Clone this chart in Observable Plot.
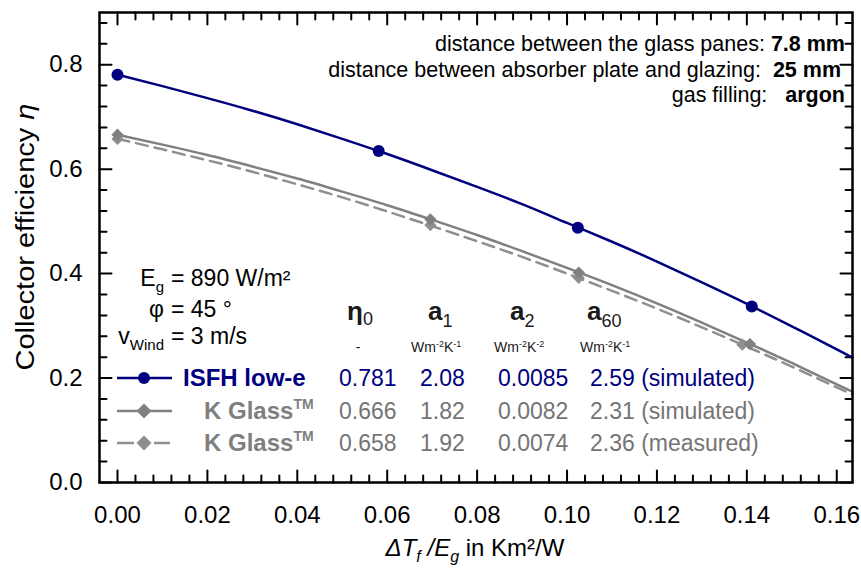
<!DOCTYPE html>
<html><head><meta charset="utf-8">
<script src="https://cdn.jsdelivr.net/npm/d3@7"></script>
<script src="https://cdn.jsdelivr.net/npm/@observablehq/plot@0.6"></script>
<style>
html,body{margin:0;padding:0;background:#fff;}
svg{display:block;}
</style></head><body><div id="chart"></div>
<script>
// ---- data ----
const xGrid    = [0, 0.01, 0.02, 0.03, 0.04, 0.05, 0.06, 0.07, 0.08, 0.09, 0.10, 0.11, 0.12, 0.13, 0.14, 0.15, 0.16, 0.1635];
const etaISFH  = [0.781, 0.759, 0.736, 0.712, 0.686, 0.658, 0.629, 0.598, 0.566, 0.533, 0.497, 0.461, 0.423, 0.383, 0.342, 0.299, 0.255, 0.239];
const etaKsim  = [0.666, 0.647, 0.627, 0.605, 0.582, 0.557, 0.531, 0.503, 0.474, 0.443, 0.411, 0.378, 0.343, 0.306, 0.268, 0.229, 0.188, 0.174];
const etaKmeas = [0.658, 0.638, 0.617, 0.595, 0.571, 0.546, 0.519, 0.491, 0.462, 0.432, 0.400, 0.367, 0.333, 0.297, 0.260, 0.222, 0.182, 0.169];

const ptX_ISFH  = [0, 0.0581, 0.1024, 0.1411];
const ptY_ISFH  = [0.781, 0.635, 0.488, 0.337];
const ptX_Ksim  = [0, 0.0696, 0.1026, 0.1407];
const ptY_Ksim  = [0.666, 0.504, 0.402, 0.265];
const ptX_Kmeas = [0, 0.0696, 0.1026, 0.1390];
const ptY_Kmeas = [0.658, 0.493, 0.392, 0.264];

const seriesNames = ["ISFH low-e", "K Glass", "K Glass"];
const eta0   = ["0.781", "0.666", "0.658"];
const a1     = ["2.08", "1.82", "1.92"];
const a2     = ["0.0085", "0.0082", "0.0074"];
const a60    = ["2.59", "2.31", "2.36"];
const method = ["simulated", "simulated", "measured"];

const xTicks = [0, 0.02, 0.04, 0.06, 0.08, 0.10, 0.12, 0.14, 0.16];
const yTicks = [0, 0.2, 0.4, 0.6, 0.8];

// ---- styles ----
const FONT = "'Liberation Sans', Arial, Helvetica, sans-serif";
const NAVY = "#00007f";
const GREY = "#808080";
const GREY_D = "#8f8f8f";
const TXT_GREY = "#747474";

const xMinor = d3.range(1, 41).filter(k => k % 5 !== 0).map(k => k * 0.004);
const yMinor = d3.range(1, 23).filter(k => k % 5 !== 0).map(k => k * 0.04);

const toRows = (xs, ys) => xs.map((x, i) => ({x, y: ys[i]}));
const cISFH = toRows(xGrid, etaISFH), cKsim = toRows(xGrid, etaKsim), cKmeas = toRows(xGrid, etaKmeas);
const pISFH = toRows(ptX_ISFH, ptY_ISFH), pKsim = toRows(ptX_Ksim, ptY_Ksim), pKmeas = toRows(ptX_Kmeas, ptY_Kmeas);

const tickShape = {draw(ctx, l) { ctx.moveTo(0, 0); ctx.lineTo(0, -l); }};
const vec = (data, o) => Plot.vector(data, {anchor: "start", shape: tickShape, stroke: "#000", strokeWidth: 2, ...o});
const XMIN = -0.004, XMAX = 0.1635, YMAX = 0.9;

const plot = Plot.plot({
  width: 861, height: 574,
  marginLeft: 99, marginRight: 9, marginTop: 12, marginBottom: 92,
  style: {fontFamily: FONT, fontSize: "24px", color: "#000", background: "#fff"},
  x: {domain: [XMIN, XMAX]},
  y: {domain: [0, YMAX]},
  marks: [
    Plot.axisX(xTicks, {tickSize: 0, tickPadding: 23, tickFormat: d3.format(".2f"), label: null, fontSize: 24}),
    Plot.axisY(yTicks, {tickSize: 0, tickPadding: 17, tickFormat: d3.format(".1f"), label: null, fontSize: 24}),
    // inward ticks on all four sides
    vec(xTicks, {x: d => d, y: () => 0, length: 12, rotate: 0}),
    vec(xMinor, {x: d => d, y: () => 0, length: 7, rotate: 0}),
    vec(xTicks, {x: d => d, y: () => YMAX, length: 12, rotate: 180}),
    vec(xMinor, {x: d => d, y: () => YMAX, length: 7, rotate: 180}),
    vec(yTicks, {x: () => XMIN, y: d => d, length: 12, rotate: 90}),
    vec(yMinor, {x: () => XMIN, y: d => d, length: 7, rotate: 90}),
    vec(yTicks, {x: () => XMAX, y: d => d, length: 12, rotate: -90}),
    vec(yMinor, {x: () => XMAX, y: d => d, length: 7, rotate: -90}),
    // curves
    Plot.line(cKmeas, {x: "x", y: "y", stroke: GREY_D, strokeWidth: 2.5, strokeDasharray: "12,7", curve: "natural"}),
    Plot.line(cKsim, {x: "x", y: "y", stroke: GREY, strokeWidth: 2.5, curve: "natural"}),
    Plot.line(cISFH, {x: "x", y: "y", stroke: NAVY, strokeWidth: 2.5, curve: "natural"}),
    Plot.dot(pKmeas, {x: "x", y: "y", symbol: "diamond2", r: 5.5, fill: GREY_D, stroke: "none"}),
    Plot.dot(pKsim, {x: "x", y: "y", symbol: "diamond2", r: 5.5, fill: GREY, stroke: "none"}),
    Plot.dot(pISFH, {x: "x", y: "y", r: 6, fill: NAVY, stroke: "none"}),
    Plot.frame({stroke: "#000", strokeWidth: 2.5})
  ]
});

// ---- rich text overlay ----
const svg = d3.select(plot);
const g = svg.append("g").attr("font-family", FONT);

function richText(x, y, parts, {anchor = "start", size = 20, fill = "#000", weight = "normal", transform = null} = {}) {
  const t = g.append("text").attr("x", x).attr("y", y).attr("text-anchor", anchor)
    .attr("font-size", size).attr("fill", fill).attr("font-weight", weight);
  if (transform) t.attr("transform", transform);
  let cur = 0;
  for (const p of parts) {
    const ts = t.append("tspan").text(p.t);
    const sh = p.shift || 0;
    if (sh !== cur) { ts.attr("dy", sh - cur); cur = sh; }
    if (p.size) ts.attr("font-size", p.size);
    if (p.bold) ts.attr("font-weight", "bold");
    if (p.normal) ts.attr("font-weight", "normal");
    if (p.italic) ts.attr("font-style", "italic");
    if (p.fill) ts.attr("fill", p.fill);
  }
  return t;
}

// axis titles
richText(475, 556, [
  {t: "\u0394T", italic: true}, {t: "f", italic: true, size: 16, shift: 6},
  {t: "\u00a0/E", italic: true}, {t: "g", italic: true, size: 16, shift: 6},
  {t: "\u00a0in Km\u00b2/W"}
], {anchor: "middle", size: 24});
richText(0, 0, [{t: "Collector efficiency "}, {t: "\u03b7", italic: true}],
  {anchor: "middle", size: 25, transform: "translate(34,237) rotate(-90) scale(1.16,1)"});

// top-right annotation
richText(845, 51, [{t: "distance between the glass panes: "}, {t: "7.8 mm", bold: true}], {anchor: "end", size: 21.5});
richText(841, 77, [{t: "distance between absorber plate and glazing:\u00a0\u00a0"}, {t: "25 mm", bold: true}], {anchor: "end", size: 21.5});
richText(845, 102, [{t: "gas filling:\u00a0\u00a0\u00a0"}, {t: "argon", bold: true}], {anchor: "end", size: 21.5});

// conditions
richText(164, 286, [{t: "E"}, {t: "g", size: 15, shift: 6}], {anchor: "end", size: 23});
richText(171, 286, [{t: "= 890 W/m\u00b2"}], {size: 23});
richText(164, 317, [{t: "\u03c6"}], {anchor: "end", size: 23});
richText(171, 317, [{t: "= 45 \u00b0"}], {size: 23});
richText(164, 344, [{t: "v"}, {t: "Wind", size: 15, shift: 6}], {anchor: "end", size: 23});
richText(171, 344, [{t: "= 3 m/s"}], {size: 23});

// table header
const HDR = "#1a1a1a";
richText(347, 320, [{t: "\u03b7", bold: true}, {t: "0", size: 18, shift: 5, normal: true}], {size: 26, fill: HDR});
richText(428, 320, [{t: "a", bold: true}, {t: "1", size: 18, shift: 7, normal: true}], {size: 26, fill: HDR});
richText(510, 320, [{t: "a", bold: true}, {t: "2", size: 18, shift: 7, normal: true}], {size: 26, fill: HDR});
richText(587, 320, [{t: "a", bold: true}, {t: "60", size: 18, shift: 7, normal: true}], {size: 26, fill: HDR});
const unit = (x, e2) => richText(x, 352, [{t: "Wm"}, {t: "-2", size: 9, shift: -5}, {t: "K", shift: 0}, {t: e2, size: 9, shift: -5}], {size: 14, fill: HDR});
richText(358, 352, [{t: "-"}], {anchor: "middle", size: 14, fill: HDR});
unit(411, "-1");
unit(494, "-2");
unit(580, "-1");

// legend rows
const rowY = [378, 411, 443];
const rowFill = [NAVY, TXT_GREY, TXT_GREY];
const lineCol = [NAVY, GREY, GREY_D];
const nameX = [183, 204, 204];
rowY.forEach((cy, i) => {
  if (i === 2) {
    g.append("line").attr("x1", 117).attr("x2", 134).attr("y1", cy).attr("y2", cy).attr("stroke", lineCol[i]).attr("stroke-width", 2.5);
    g.append("line").attr("x1", 154).attr("x2", 170).attr("y1", cy).attr("y2", cy).attr("stroke", lineCol[i]).attr("stroke-width", 2.5);
  } else {
    g.append("line").attr("x1", 117).attr("x2", 172).attr("y1", cy).attr("y2", cy).attr("stroke", lineCol[i]).attr("stroke-width", 2.5);
  }
  if (i === 0) g.append("circle").attr("cx", 144).attr("cy", cy).attr("r", 6).attr("fill", NAVY);
  else g.append("path").attr("d", `M144,${cy - 7.5}L${144 + 7.5},${cy}L144,${cy + 7.5}L${144 - 7.5},${cy}Z`).attr("fill", lineCol[i]);
  const by = cy + 8;
  const nameParts = i === 0 ? [{t: seriesNames[i]}] : [{t: seriesNames[i]}, {t: "TM", size: 14, shift: -10}];
  richText(nameX[i], by, nameParts, {size: 24, weight: "bold", fill: i === 0 ? NAVY : "#7f7f7f"});
  richText(339, by, [{t: eta0[i]}], {size: 23, fill: rowFill[i]});
  richText(420, by, [{t: a1[i]}], {size: 23, fill: rowFill[i]});
  richText(498, by, [{t: a2[i]}], {size: 23, fill: rowFill[i]});
  richText(590, by, [{t: `${a60[i]} (${method[i]})`}], {size: 23, fill: rowFill[i]});
});

document.getElementById("chart").appendChild(plot);
</script>
</body></html>
